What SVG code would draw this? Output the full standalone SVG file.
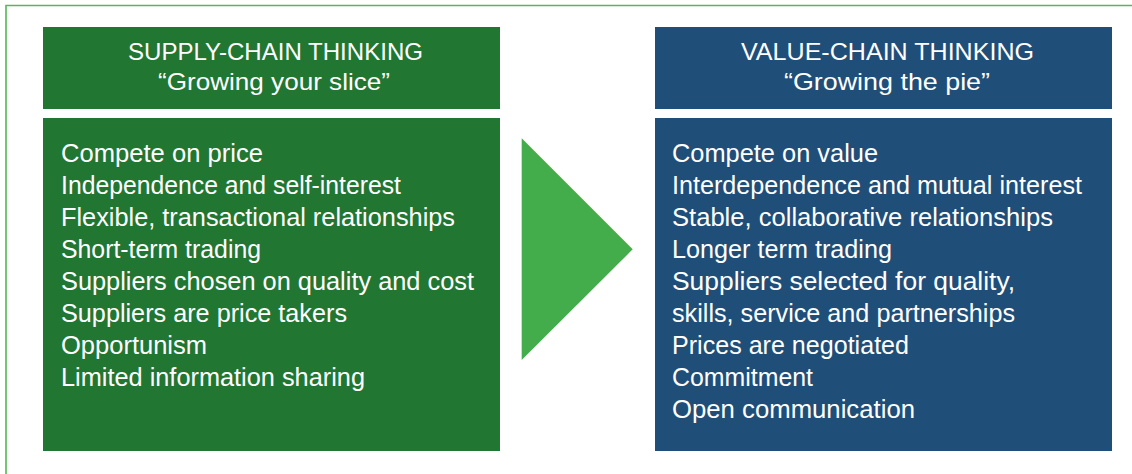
<svg xmlns="http://www.w3.org/2000/svg" width="1132" height="474" viewBox="0 0 1132 474">
<style>
.t{font-family:"Liberation Sans",Arial,sans-serif;fill:#ffffff;}
.h{font-size:24px;text-anchor:middle;}
.b{font-size:25px;}
.g{fill:#217632;}
.bl{fill:#1f4e79;}
</style>
<rect width="1132" height="474" fill="#ffffff"/>
<path d="M6,474 V5.5 H1132" fill="none" stroke="#55b755" stroke-width="1.6"/>
<g id="supply-header">
<rect class="g" x="43" y="27" width="457" height="82"/>
<text class="t h" x="275.5" y="60" textLength="295" lengthAdjust="spacingAndGlyphs">SUPPLY-CHAIN THINKING</text>
<text class="t h" x="274" y="90" textLength="232" lengthAdjust="spacingAndGlyphs">“Growing your slice”</text>
</g>
<g id="supply-body">
<rect class="g" x="43" y="118" width="457" height="333"/>
<text class="t b" x="61" y="162" textLength="202" lengthAdjust="spacingAndGlyphs">Compete on price</text>
<text class="t b" x="61" y="194" textLength="340" lengthAdjust="spacingAndGlyphs">Independence and self-interest</text>
<text class="t b" x="61" y="226" textLength="394" lengthAdjust="spacingAndGlyphs">Flexible, transactional relationships</text>
<text class="t b" x="61" y="258" textLength="200" lengthAdjust="spacingAndGlyphs">Short-term trading</text>
<text class="t b" x="61" y="290" textLength="413" lengthAdjust="spacingAndGlyphs">Suppliers chosen on quality and cost</text>
<text class="t b" x="61" y="322" textLength="286" lengthAdjust="spacingAndGlyphs">Suppliers are price takers</text>
<text class="t b" x="61" y="354" textLength="146" lengthAdjust="spacingAndGlyphs">Opportunism</text>
<text class="t b" x="61" y="386" textLength="304" lengthAdjust="spacingAndGlyphs">Limited information sharing</text>
</g>
<g id="connectors">
<polygon points="521.7,138.3 632.7,249.3 521.7,360" fill="#42ad4a"/>
</g>
<g id="value-header">
<rect class="bl" x="655" y="27" width="457" height="82"/>
<text class="t h" x="887.5" y="60" textLength="293" lengthAdjust="spacingAndGlyphs">VALUE-CHAIN THINKING</text>
<text class="t h" x="887" y="90" textLength="206" lengthAdjust="spacingAndGlyphs">“Growing the pie”</text>
</g>
<g id="value-body">
<rect class="bl" x="655" y="118" width="457" height="333"/>
<text class="t b" x="672" y="162" textLength="206" lengthAdjust="spacingAndGlyphs">Compete on value</text>
<text class="t b" x="672" y="194" textLength="410" lengthAdjust="spacingAndGlyphs">Interdependence and mutual interest</text>
<text class="t b" x="672" y="226" textLength="381" lengthAdjust="spacingAndGlyphs">Stable, collaborative relationships</text>
<text class="t b" x="672" y="258" textLength="220" lengthAdjust="spacingAndGlyphs">Longer term trading</text>
<text class="t b" x="672" y="290" textLength="343" lengthAdjust="spacingAndGlyphs">Suppliers selected for quality,</text>
<text class="t b" x="672" y="322" textLength="343" lengthAdjust="spacingAndGlyphs">skills, service and partnerships</text>
<text class="t b" x="672" y="354" textLength="237" lengthAdjust="spacingAndGlyphs">Prices are negotiated</text>
<text class="t b" x="672" y="386" textLength="141" lengthAdjust="spacingAndGlyphs">Commitment</text>
<text class="t b" x="672" y="418" textLength="243" lengthAdjust="spacingAndGlyphs">Open communication</text>
</g>
</svg>
